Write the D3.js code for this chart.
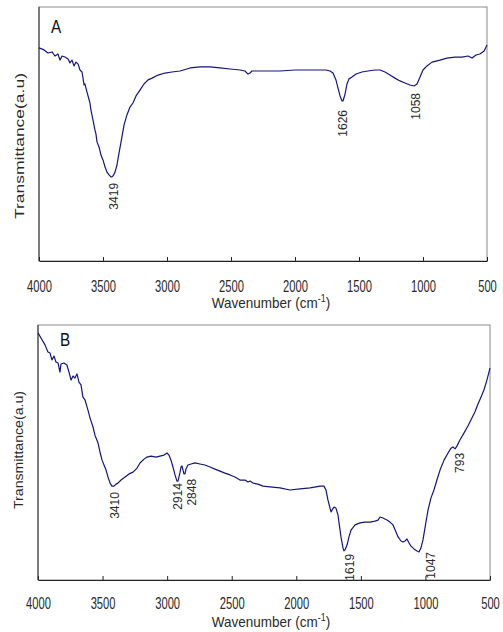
<!DOCTYPE html>
<html>
<head>
<meta charset="utf-8">
<script src="https://cdn.jsdelivr.net/npm/d3@7"></script>
<style>
	body { margin: 0; background: #fff; }
	svg { display: block; }
	text { font-family: "Liberation Sans", Arial, sans-serif; }
</style>
</head>
<body>
<svg id="chart" width="503" height="632"></svg>
<script>
// spectrum A (wavenumber cm-1, transmittance a.u.)
const wavenumberA = [4000,3961,3930,3898,3875,3852,3836,3820,3797,3773,
	3758,3742,3727,3711,3695,3680,3664,3656,3648,3641,
	3633,3617,3602,3594,3578,3563,3555,3547,3531,3516,
	3500,3484,3469,3453,3438,3430,3422,3406,3391,3375,
	3359,3336,3313,3289,3266,3242,3211,3180,3148,3117,
	3070,3016,2961,2898,2820,2742,2664,2586,2508,2430,
	2391,2367,2352,2336,2305,2234,2117,2000,1883,1805,
	1758,1727,1703,1680,1664,1648,1633,1625,1609,1594,
	1578,1555,1523,1477,1430,1375,1336,1297,1258,1219,
	1180,1141,1102,1070,1047,1023,1000,969,930,867,
	813,750,695,648,617,586,555,523,500];
const transA = [83.9,83.1,81.9,82.3,80.7,81.5,79.1,80.7,80.3,79.5,
	78.0,79.1,76.8,78.3,77.6,75.2,74.4,72.0,69.3,69.7,
	68.1,65.0,62.2,59.4,55.5,51.6,50.0,46.9,44.9,41.7,
	39.8,37.0,35.0,33.9,33.1,33.1,33.5,35.0,37.8,42.5,
	46.9,53.5,57.5,60.6,62.2,65.0,67.3,69.7,71.3,72.0,
	73.2,74.0,74.4,74.8,76.0,76.4,76.4,76.0,75.6,75.2,
	74.8,73.6,74.0,74.8,74.8,74.8,74.8,75.2,75.2,75.2,
	75.2,74.8,74.0,71.3,68.1,65.0,63.0,63.0,65.7,69.7,
	71.7,72.4,73.6,74.4,74.8,75.2,75.2,74.4,73.2,72.0,
	70.9,70.1,69.3,68.9,69.7,72.4,75.2,76.8,78.3,79.1,
	79.9,80.3,80.3,80.7,79.9,81.1,81.5,82.7,85.0];
const peaksA = [3419, 1626, 1058];

// spectrum B
const wavenumberB = [4000,3977,3946,3923,3907,3892,3876,3861,3845,3830,
	3822,3799,3776,3760,3744,3729,3714,3698,3683,3667,
	3652,3636,3613,3597,3574,3559,3535,3520,3504,3489,
	3473,3458,3442,3427,3412,3396,3381,3357,3326,3295,
	3264,3233,3210,3179,3156,3125,3086,3055,3024,3001,
	2986,2970,2955,2939,2924,2916,2900,2893,2885,2877,
	2870,2862,2854,2839,2815,2784,2746,2707,2668,2630,
	2591,2552,2513,2475,2436,2397,2374,2358,2335,2296,
	2258,2204,2126,2049,1971,1893,1847,1816,1786,1770,
	1755,1739,1731,1724,1708,1693,1677,1669,1654,1638,
	1631,1623,1607,1592,1576,1545,1507,1468,1429,1391,
	1367,1352,1329,1298,1274,1251,1228,1212,1189,1174,
	1158,1143,1127,1112,1089,1065,1050,1035,1019,996,
	980,957,934,911,887,856,825,802,787,771,
	756,733,702,671,640,617,593,570,547,524,
	508,500];
const transB = [96.9,94.9,92.2,89.4,89.0,86.3,87.8,85.5,85.1,81.5,
	84.7,85.1,84.3,81.5,78.4,80.0,79.2,80.8,77.6,76.5,
	71.7,70.6,66.6,63.5,60.0,56.8,53.7,50.2,47.0,45.1,
	43.1,40.4,38.0,36.8,36.8,37.6,38.0,39.2,40.4,41.6,
	42.3,43.9,45.9,47.4,48.2,48.6,48.2,48.6,49.0,49.8,
	49.0,47.0,44.3,41.2,38.8,38.8,42.3,44.3,44.7,43.1,
	41.6,41.6,43.5,45.1,45.5,45.9,45.5,45.1,44.3,43.5,
	42.7,41.9,41.2,40.4,39.2,39.2,38.4,38.8,38.0,37.6,
	36.8,36.5,36.1,35.3,35.7,36.1,36.5,36.8,36.8,35.3,
	31.4,28.2,26.7,27.4,28.6,28.2,25.5,22.4,16.9,12.5,
	11.4,11.8,13.7,16.9,19.6,21.6,22.4,22.7,22.7,23.1,
	23.5,24.7,24.3,23.5,22.7,21.6,18.8,16.9,15.3,14.9,
	15.3,16.1,14.5,13.3,12.2,11.4,11.0,12.5,15.7,22.7,
	27.4,32.2,35.3,39.2,43.1,47.0,49.8,51.7,52.2,51.4,
	52.5,54.9,57.6,60.4,63.5,65.9,69.0,71.7,74.5,78.4,
	81.5,83.1];
const peaksB = [3410, 2914, 2848, 1619, 1047, 793];

const xTicks = [4000, 3500, 3000, 2500, 2000, 1500, 1000, 500];

const svg = d3.select('#chart');
const lineColor = '#14147f';
const textColor = '#2a2a2a';

function drawPanel(p) {
	const x = d3.scaleLinear().domain([4000, 500]).range([p.left, p.right]);
	const y = d3.scaleLinear().domain([0, 100]).range([p.bottom, p.top]);
	const g = svg.append('g');

	// plot area border
	g.append('rect')
		.attr('x', p.left).attr('y', p.top)
		.attr('width', p.right - p.left).attr('height', p.bottom - p.top)
		.attr('fill', 'none').attr('stroke', '#8a8a8a');
	g.append('line')
		.attr('x1', p.left).attr('x2', p.left)
		.attr('y1', p.top).attr('y2', p.bottom)
		.attr('stroke', '#333');

	const xAxis = d3.axisBottom(x)
		.tickValues(xTicks)
		.tickSizeInner(-4)
		.tickSizeOuter(0)
		.tickPadding(p.tickPad)
		.tickFormat(d3.format('d'));
	const ax = g.append('g')
		.attr('transform', `translate(0,${p.bottom})`)
		.call(xAxis)
		.attr('font-family', '"Liberation Sans", Arial, sans-serif')
		.attr('font-size', 16);
	ax.select('.domain').attr('stroke', '#222');
	ax.selectAll('.tick line').attr('stroke', '#222');
	ax.selectAll('.tick text')
		.attr('fill', textColor)
		.attr('transform', 'scale(0.7,1)');

	const series = d3.zip(p.wn, p.t);
	const line = d3.line().x(d => x(d[0])).y(d => y(d[1]));
	g.append('path')
		.datum(series)
		.attr('d', line)
		.attr('fill', 'none')
		.attr('stroke', lineColor)
		.attr('stroke-width', 1.2)
		.attr('stroke-linejoin', 'round');

	// peak labels, just under the local minimum
	p.peaks.forEach((wn, i) => {
		const near = series.filter(d => Math.abs(d[0] - wn) <= 30);
		const minT = d3.min(near, d => d[1]);
		const nudge = p.nudges[i];
		const px = x(wn) + nudge[0];
		const py = y(minT) + nudge[1];
		g.append('text')
			.attr('transform', `translate(${px},${py}) rotate(-90)`)
			.attr('text-anchor', 'end')
			.attr('dy', '0.35em')
			.attr('font-size', 12)
			.attr('fill', textColor)
			.text(wn);
	});

	// panel letter
	g.append('text')
		.attr('transform', `translate(${p.letter[0]},${p.letter[1]}) scale(0.85,1)`)
		.attr('font-size', 18)
		.attr('fill', '#111')
		.text(p.name);

	// y title
	g.append('text')
		.attr('transform', `translate(${p.yTitle[0]},${p.yTitle[1]}) rotate(-90)`)
		.attr('text-anchor', 'middle')
		.attr('dy', '0.35em')
		.attr('font-size', 12)
		.attr('textLength', p.yTitle[2])
		.attr('lengthAdjust', 'spacingAndGlyphs')
		.attr('fill', textColor)
		.text('Transmittance(a.u)');

	// x title
	const xt = g.append('text')
		.attr('transform', `translate(${p.xTitle[0]},${p.xTitle[1]}) scale(0.9,1)`)
		.attr('text-anchor', 'middle')
		.attr('font-size', 15)
		.attr('fill', textColor);
	xt.append('tspan').text('Wavenumber (cm');
	xt.append('tspan').attr('font-size', 10).attr('dy', -6).text('-1');
	xt.append('tspan').attr('dy', 6).text(')');
}

drawPanel({
	name: 'A', wn: wavenumberA, t: transA, peaks: peaksA,
	nudges: [[0, 6], [0, 9], [0.5, 7]],
	left: 39, right: 487, top: 7, bottom: 261, tickPad: 20,
	letter: [51, 33], yTitle: [20, 146, 146], xTitle: [271, 308]
});
drawPanel({
	name: 'B', wn: wavenumberB, t: transB, peaks: peaksB,
	nudges: [[1, 6], [0, 2], [5, 5], [4.5, 3], [11.5, 0], [8, 4]],
	left: 38, right: 490, top: 325, bottom: 580, tickPad: 18,
	letter: [60, 346], yTitle: [19, 450, 118], xTitle: [271, 627]
});
</script>
</body>
</html>
